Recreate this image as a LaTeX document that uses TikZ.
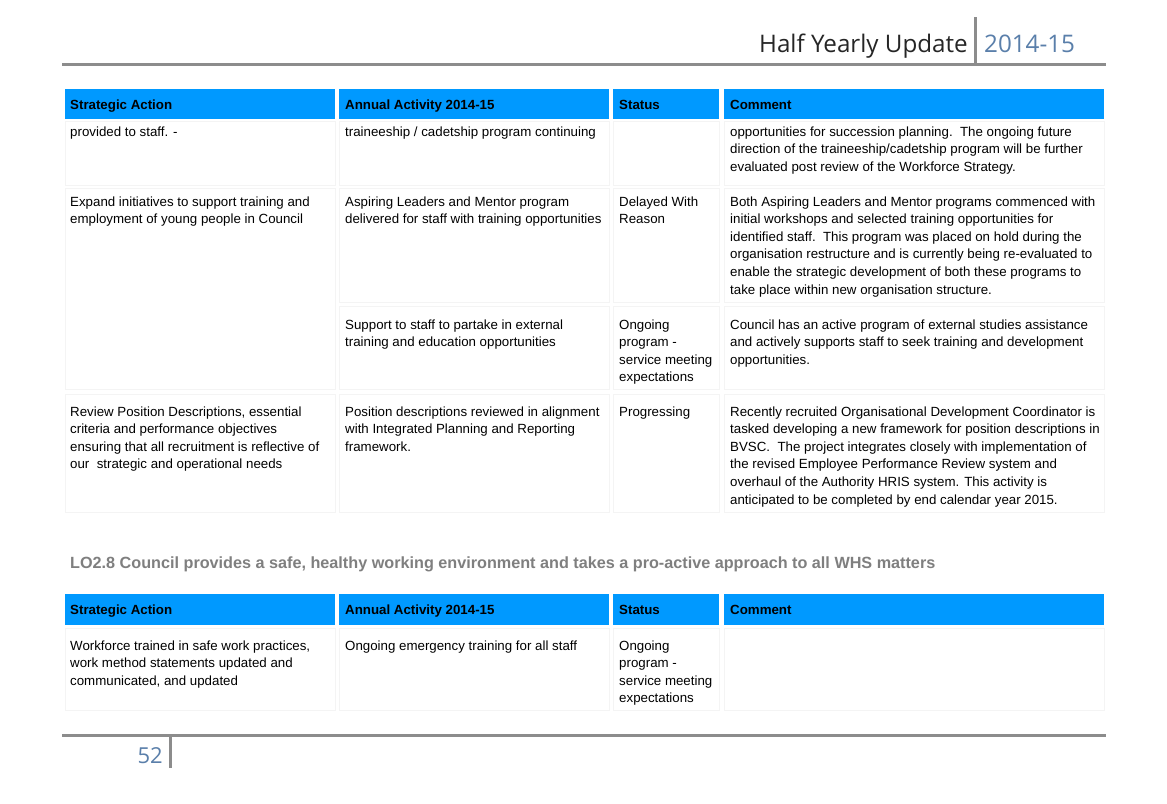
\documentclass[tikz,border=0pt]{standalone}
\usepackage{fontspec}
\setmainfont{Liberation Sans}
\newfontfamily\headfont{Open Sans}
\definecolor{hdrblue}{HTML}{0099FF}
\definecolor{rulegray}{HTML}{8C8C8C}
\definecolor{bluegray}{HTML}{5A7FAA}
\definecolor{titlegray}{HTML}{7F7F7F}
\definecolor{cellline}{HTML}{F4F4F4}
\newcommand{\mlines}[1]{\begin{tabular}[t]{@{}l@{}}#1\end{tabular}}
\begin{document}
\begin{tikzpicture}[x=1pt,y=-1pt,
  hdr/.style={fill=hdrblue,draw=none},
  cellb/.style={draw=cellline,line width=0.8pt},
  txt/.style={anchor=base west,inner sep=0pt,
    font=\fontsize{13.3}{17.6}\selectfont},
  htxt/.style={anchor=base west,inner sep=0pt,font=\fontsize{13.3}{17.6}\selectfont\bfseries},
  rulel/.style={draw=rulegray,line width=3pt}]
\useasboundingbox (0,0) rectangle (1167,803);
\fill[white] (0,0) rectangle (1167,803);
% page header
\coordinate (hl) at (62,64);
\coordinate (hr) at (1106,64);
\draw[rulel] (hl) -- (hr);
\coordinate (hb1) at (975,17);
\coordinate (hb2) at (975,63);
\draw[rulel] (hb1) -- (hb2);
\node[anchor=base east,inner sep=0pt,font=\headfont\fontsize{24.2}{28}\selectfont,text=black!85] (htitle) at (968,52) {Half Yearly Update};
\node[anchor=base west,inner sep=0pt,font=\headfont\fontsize{24.2}{28}\selectfont,text=bluegray] (hyear) at (984,52) {2014-15};
% table 1 header
\foreach \xa/\xb in {65/335,339/609,613/719,724/1104}{
  \fill[hdr] (\xa,89) rectangle (\xb,119);
}
\node[htxt] (t1h1) at (70,109) {Strategic Action};
\node[htxt] (t1h2) at (345,109) {Annual Activity 2014-15};
\node[htxt] (t1h3) at (619,109) {Status};
\node[htxt] (t1h4) at (730,109) {Comment};
% cell borders table 1
\foreach \xa/\xb in {65/335,339/609,613/719,724/1104}{
  \draw[cellb] (\xa,121) rectangle (\xb,185);
  \draw[cellb] (\xa,394) rectangle (\xb,512);
}
\draw[cellb] (65,188) rectangle (335,389);
\foreach \xa/\xb in {339/609,613/719,724/1104}{
  \draw[cellb] (\xa,188) rectangle (\xb,302);
  \draw[cellb] (\xa,306) rectangle (\xb,389);
}
% row A
\node[txt] (a1) at (70,136) {provided to staff. -};
\node[txt] (a2) at (345,136) {traineeship / cadetship program continuing};
\node[txt] (a4) at (730,136) {\mlines{opportunities for succession planning.\ \ The ongoing future\\direction of the traineeship/cadetship program will be further\\evaluated post review of the Workforce Strategy.}};
% row B
\node[txt] (b1) at (70,206) {\mlines{Expand initiatives to support training and\\employment of young people in Council}};
\node[txt] (b2) at (345,206) {\mlines{Aspiring Leaders and Mentor program\\delivered for staff with training opportunities}};
\node[txt] (b3) at (619,206) {\mlines{Delayed With\\Reason}};
\node[txt] (b4) at (730,206) {\mlines{Both Aspiring Leaders and Mentor programs commenced with\\initial workshops and selected training opportunities for\\identified staff.\ \ This program was placed on hold during the\\organisation restructure and is currently being re-evaluated to\\enable the strategic development of both these programs to\\take place within new organisation structure.}};
% row C
\node[txt] (c2) at (345,329) {\mlines{Support to staff to partake in external\\training and education opportunities}};
\node[txt] (c3) at (619,329) {\mlines{Ongoing\\program -\\service meeting\\expectations}};
\node[txt] (c4) at (730,329) {\mlines{Council has an active program of external studies assistance\\and actively supports staff to seek training and development\\opportunities.}};
% row D
\node[txt] (d1) at (70,416) {\mlines{Review Position Descriptions, essential\\criteria and performance objectives\\ensuring that all recruitment is reflective of\\our\ \ strategic and operational needs}};
\node[txt] (d2) at (345,416) {\mlines{Position descriptions reviewed in alignment\\with Integrated Planning and Reporting\\framework.}};
\node[txt] (d3) at (619,416) {Progressing};
\node[txt] (d4) at (730,416) {\mlines{Recently recruited Organisational Development Coordinator is\\tasked developing a new framework for position descriptions in\\BVSC.\ \ The project integrates closely with implementation of\\the revised Employee Performance Review system and\\overhaul of the Authority HRIS system. This activity is\\anticipated to be completed by end calendar year 2015.}};
% section title
\node[anchor=base west,inner sep=0pt,font=\fontsize{16.2}{19}\selectfont\bfseries,text=titlegray] (sect) at (70,568) {LO2.8 Council provides a safe, healthy working environment and takes a pro-active approach to all WHS matters};
% table 2
\foreach \xa/\xb in {65/335,339/609,613/719,724/1104}{
  \fill[hdr] (\xa,594) rectangle (\xb,625);
  \draw[cellb] (\xa,628) rectangle (\xb,710);
}
\node[htxt] (t2h1) at (70,614) {Strategic Action};
\node[htxt] (t2h2) at (345,614) {Annual Activity 2014-15};
\node[htxt] (t2h3) at (619,614) {Status};
\node[htxt] (t2h4) at (730,614) {Comment};
\node[txt] (e1) at (70,650) {\mlines{Workforce trained in safe work practices,\\work method statements updated and\\communicated, and updated}};
\node[txt] (e2) at (345,650) {Ongoing emergency training for all staff};
\node[txt] (e3) at (619,650) {\mlines{Ongoing\\program -\\service meeting\\expectations}};
% footer
\coordinate (fl) at (62,735);
\coordinate (fr) at (1106,735);
\draw[rulel] (fl) -- (fr);
\coordinate (fb1) at (170,736);
\coordinate (fb2) at (170,768);
\draw[rulel] (fb1) -- (fb2);
\node[anchor=base east,inner sep=0pt,font=\headfont\fontsize{22}{26}\selectfont,text=bluegray] (pnum) at (163,763) {52};
\end{tikzpicture}
\end{document}
